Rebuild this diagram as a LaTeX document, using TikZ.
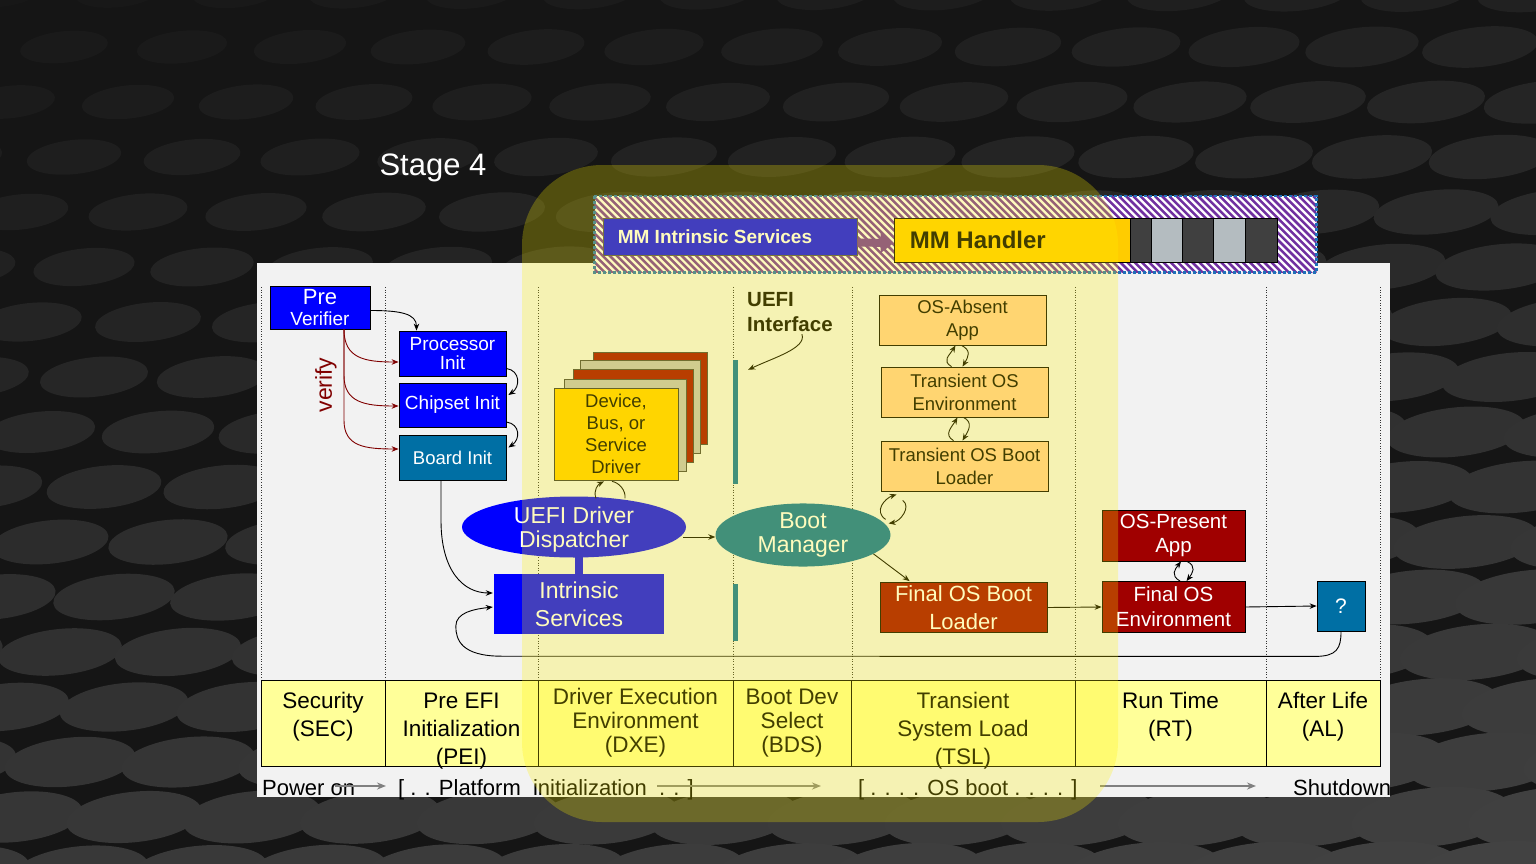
\documentclass[tikz,border=0pt]{standalone}
\usepackage{fontspec}
\setmainfont{Liberation Sans}
\usetikzlibrary{arrows.meta,calc,shapes.geometric}
\newcommand\fsz[2]{\fontsize{#1}{#2}\selectfont}

\definecolor{bgdark}{HTML}{151515}
\definecolor{panel}{HTML}{F2F2F2}
\definecolor{pblue}{HTML}{0000FF}
\definecolor{ueteal}{HTML}{006FA4}
\definecolor{dred}{HTML}{A00000}
\definecolor{vred}{HTML}{800000}
\definecolor{gold}{HTML}{FFCC00}
\definecolor{peach}{HTML}{FFCC99}
\definecolor{phase}{HTML}{FFFF99}
\definecolor{silver}{HTML}{C0C0C0}
\definecolor{mmpurple}{HTML}{7030A0}
\definecolor{mmborder}{HTML}{1F6FB8}
\definecolor{segdark}{HTML}{404040}
\definecolor{seglight}{HTML}{B4BCC0}
\definecolor{arrowgrey}{HTML}{808080}

\begin{document}
\begin{tikzpicture}[x=1pt,y=-1pt,
  box/.style={draw=black, line width=0.8pt, inner sep=0pt, align=center},
  bluebox/.style={box, fill=pblue, text=white},
  peachbox/.style={box, fill=peach, text=black, minimum width=167pt, minimum height=50pt, font=\fsz{18.5}{23}},
  redbox/.style={box, fill=dred, text=white},
  card/.style={fill=#1, draw=black!75, line width=0.6pt},
  conn/.style={draw=black, line width=0.9pt, -{Stealth[length=7pt,width=5.5pt]}},
  plain/.style={draw=black, line width=0.9pt},
  vconn/.style={conn, draw=vred},
  greyarrow/.style={draw=arrowgrey, line width=2pt, -{Stealth[length=9pt,width=7pt]}},
  divider/.style={draw=black!80, line width=0.8pt, dash pattern=on 1pt off 1.6pt},
  phasebox/.style={draw=black, fill=phase, line width=0.8pt, minimum height=86pt, inner sep=0pt},
  phasetext/.style={align=center, text=black, inner sep=0pt},
  timeline/.style={anchor=base west, inner sep=0pt, font=\fsz{22}{22}},
  seg/.style={draw=black, line width=0.8pt, minimum height=44pt, inner sep=0pt, fill=#1}
]
\useasboundingbox (0,0) rectangle (1536,864);

% ---------- textured dark backdrop ----------
\fill[bgdark] (0,0) rectangle (1536,864);
\begin{scope}
\clip (0,0) rectangle (1536,864);
\foreach \j in {0,...,16} {
  \foreach \i in {-1,...,14} {
    \pgfmathsetmacro\yy{\j*55-8}
    \pgfmathsetmacro\xx{\i*118+mod(\j,2)*59+\j*5}
    \pgfmathsetmacro\erx{42+\yy*0.03+\xx*0.01}
    \pgfmathsetmacro\ery{15+\yy*0.012+\xx*0.003}
    \pgfmathtruncatemacro\gv{24+\yy/864*32+\xx/1536*10}
    \fill[fill={rgb,255:red,\gv;green,\gv;blue,\gv}, rotate around={6:(\xx,\yy)}]
      (\xx,\yy) ellipse [x radius=\erx, y radius=\ery];
  }
}
\end{scope}

% ---------- title ----------
\node[text=white, font=\fsz{31}{31}] (title) at (433,168) {Stage 4};

% ---------- diagram panel ----------
\fill[panel] (257,263) rectangle (1390,797);
\foreach \x in {261,385,538,733,852,1075,1266,1380}
  \draw[divider] (\x,287) -- (\x,680);

% ---------- phase row ----------
\node[phasebox, minimum width=124pt] (sec) at (323,723) {};
\node[phasebox, minimum width=153pt] (pei) at (461.5,723) {};
\node[phasebox, minimum width=195pt] (dxe) at (635.5,723) {};
\node[phasebox, minimum width=118pt] (bds) at (792,723) {};
\node[phasebox, minimum width=224pt] (tsl) at (963,723) {};
\node[phasebox, minimum width=191pt] (rt) at (1170.5,723) {};
\node[phasebox, minimum width=114pt] (al) at (1323,723) {};
\node[phasetext, font=\fsz{22.5}{28}] (sectxt) at (323,717) {Security\\(SEC)};
\node[phasetext, font=\fsz{22.5}{28}] (peitxt) at (461.5,731) {Pre EFI\\Initialization\\(PEI)};
\node[phasetext, font=\fsz{22.5}{24}] (dxetxt) at (635.5,723) {Driver Execution\\Environment\\(DXE)};
\node[phasetext, font=\fsz{22.5}{24}] (bdstxt) at (792,723) {Boot Dev\\Select\\(BDS)};
\node[phasetext, font=\fsz{22.5}{28}] (tsltxt) at (963,731) {Transient\\System Load\\(TSL)};
\node[phasetext, font=\fsz{22.5}{28}] (rttxt) at (1170.5,717) {Run Time\\(RT)};
\node[phasetext, font=\fsz{22.5}{28}] (altxt) at (1323,717) {After Life\\(AL)};

% ---------- timeline ----------
\node[timeline] (poweron) at (262,795) {Power on};
\node[timeline] (platform) at (398,795) {[ . . Platform~ initialization~ . . ]};
\node[timeline] (osboot) at (858,795) {[ . . . . OS boot . . . . ]};
\node[timeline] (shutdown) at (1293,795) {Shutdown};
\coordinate (ga1) at (335,786); \coordinate (gb1) at (386,786);
\coordinate (ga2) at (657,786); \coordinate (gb2) at (821,786);
\coordinate (ga3) at (1100,786); \coordinate (gb3) at (1256,786);
\draw[greyarrow] (ga1) -- (gb1);
\draw[greyarrow] (ga2) -- (gb2);
\draw[greyarrow] (ga3) -- (gb3);

% ---------- MM bar ----------
\node[fill=white, minimum width=722pt, minimum height=76pt, inner sep=0pt] (mmbar) at (955.5,234) {};
\begin{scope}
  \clip (mmbar.north west) rectangle (mmbar.south east);
  \foreach \k in {0,...,112}
    \draw[mmpurple, line width=2.5pt] ({514+\k*7.2},196) -- ++(80,80);
\end{scope}
\draw[mmborder, line width=2.6pt, dash pattern=on 3pt off 2pt] (mmbar.north west) rectangle (mmbar.south east);
\node[fill=pblue, draw=black!70, line width=0.8pt, minimum width=254pt, minimum height=37pt, inner sep=0pt] (mmis) at (730,236.5) {};
\node[anchor=west, text=white, inner sep=0pt, font=\bfseries\fsz{19}{20}] (mmistxt) at ($(mmis.west)+(15,0)$) {MM Intrinsic Services};
\node[fill=gold, draw=black, line width=0.8pt, minimum width=236pt, minimum height=44pt, inner sep=0pt] (mmh) at (1012,240) {};
\node[anchor=west, text=black, inner sep=0pt, font=\bfseries\fsz{24}{24}] (mmhtxt) at ($(mmh.west)+(16,0)$) {MM Handler};
\node[seg=segdark, minimum width=21pt] (s1) at (1140.5,240) {};
\node[seg=seglight, minimum width=31pt] (s2) at (1166.5,240) {};
\node[seg=segdark, minimum width=31pt] (s3) at (1197.5,240) {};
\node[seg=seglight, minimum width=32pt] (s4) at (1229,240) {};
\node[seg=segdark, minimum width=32pt] (s5) at (1261,240) {};
\draw[mmpurple, line width=8pt, -{Triangle[length=13pt,width=20pt]}] ($(mmis.east)+(0,6)$) -- ($(mmh.west)+(0,3)$);

% ---------- SEC / PEI ----------
\node[bluebox, minimum width=100pt, minimum height=43pt, font=\fsz{19}{21}] (prever) at (320,307.5) {{\fsz{22}{21}Pre}\\Verifier};
\node[bluebox, minimum width=107pt, minimum height=45pt, font=\fsz{19}{19}] (procinit) at (452.5,353.5) {Processor\\Init};
\node[bluebox, minimum width=107pt, minimum height=44pt, font=\fsz{19}{19}] (chipinit) at (452.5,405) {Chipset Init};
\node[box, fill=ueteal, text=white, minimum width=107pt, minimum height=45pt, font=\fsz{18.5}{19}] (boardinit) at (452.5,457.5) {Board Init};
\node[rotate=90, text=vred, inner sep=0pt, font=\fsz{23}{23}] (verifylbl) at (326,385) {verify};

\draw[conn] ($(prever.east)+(0,3)$) .. controls +(30,0) and +(0,-17) .. ($(procinit.north)+(-36,0)$);
\coordinate (vsrc) at ($(prever.south)+(24,0)$);
\draw[vconn] (vsrc) .. controls +(0,29) and +(-34,0) .. ($(procinit.west)+(0,8.5)$);
\draw[vconn] (vsrc) -- ++(0,46) .. controls +(0,27) and +(-34,0) .. ($(chipinit.west)+(0,1)$);
\draw[vconn] (vsrc) -- ++(0,91) .. controls +(0,26) and +(-34,0) .. ($(boardinit.west)+(0,-8.5)$);
\draw[conn] ($(procinit.east)+(0,15)$) .. controls +(14,2) and +(12,-8) .. ($(chipinit.east)+(2,-10)$);
\draw[conn] ($(chipinit.east)+(0,17)$) .. controls +(14,2) and +(12,-8) .. ($(boardinit.east)+(2,-10)$);

% ---------- DXE ----------
\filldraw[card=dred] (593,352) rectangle (707,444);
\filldraw[card=silver] (580,360) rectangle (700,453);
\filldraw[card=dred] (573,369) rectangle (693,462);
\filldraw[card=silver] (564,379) rectangle (686,471);
\node[box, fill=gold, draw=black!80, minimum width=124pt, minimum height=92pt, font=\fsz{18.5}{22}] (device) at (616,434) {Device,\\Bus, or\\Service\\Driver};

\node[ellipse, fill=pblue, minimum width=224pt, minimum height=61pt, inner sep=0pt] (dispatcher) at (574,527) {};
\node[text=white, align=center, inner sep=0pt, font=\fsz{23}{24}] (disptxt) at (574,530) {UEFI Driver\\Dispatcher};
\node[fill=pblue, minimum width=8pt, minimum height=17pt, inner sep=0pt] (link) at (579,565.5) {};
\node[fill=pblue, minimum width=170pt, minimum height=60pt, inner sep=0pt, text=white, align=center, font=\fsz{23}{28}] (intrinsic) at (579,604) {Intrinsic\\Services};

\draw[conn] ($(device.south)+(-20,18)$) .. controls +(-3,-8) and +(-6,3) .. ($(device.south)+(-12,1)$);
\draw[plain] ($(device.south)+(-4,1)$) .. controls +(7,1) and +(1,-8) .. ($(device.south)+(9,18)$);

\draw[conn] ($(boardinit.south)+(-11.5,0)$) -- ++(0,40) .. controls +(0,50) and +(-30,0) .. ($(intrinsic.west)+(-1,-11)$);

% ---------- BDS ----------
\node[fill=ueteal, minimum width=5pt, minimum height=124pt, inner sep=0pt] (ifbar1) at (735.5,422) {};
\node[fill=ueteal, minimum width=5pt, minimum height=57pt, inner sep=0pt] (ifbar2) at (735.5,612.5) {};
\node[anchor=north west, align=left, inner sep=0pt, font=\bfseries\fsz{20.5}{25}] (uefilbl) at (747,292.5) {UEFI\\Interface};
\draw[conn] ($(uefilbl.south)+(12,2)$) .. controls +(5,14) and +(25,-12) .. ($(ifbar1.north east)+(10,10)$);

\node[ellipse, fill=ueteal, text=white, minimum width=175pt, minimum height=56pt, inner sep=0pt, align=center, font=\fsz{23}{24}] (bootmgr) at (803,535) {Boot\\Manager};
\draw[conn] ($(dispatcher.east)+(-3,10)$) -- ($(bootmgr.west)+(0,2)$);

% ---------- TSL ----------
\node[peachbox] (osabsent) at (962.5,320) {OS-Absent\\App};
\node[peachbox] (tose) at (964.5,392) {Transient OS\\Environment};
\node[peachbox] (tosbl) at (964.5,466) {Transient OS Boot\\Loader};
\node[redbox, minimum width=167pt, minimum height=50pt, font=\fsz{22}{28}] (finalbl) at (963.5,607.5) {Final OS Boot\\Loader};

\draw[conn] ($(tose.north)+(-13,0)$) .. controls +(-10,-6) and +(-6,10) .. ($(osabsent.south)+(-7,0)$);
\draw[conn] ($(osabsent.south)+(-1,0)$) .. controls +(10,5) and +(6,-10) .. ($(tose.north)+(-2,0)$);
\draw[conn] ($(tosbl.north)+(-11,0)$) .. controls +(-10,-6) and +(-6,10) .. ($(tose.south)+(-7,0)$);
\draw[conn] ($(tose.south)+(-1,0)$) .. controls +(10,5) and +(6,-10) .. ($(tosbl.north)+(-2,0)$);

\draw[conn] ($(tosbl.south west)+(5,28)$) .. controls +(-12,-8) and +(-12,4) .. ($(tosbl.south west)+(16,3)$);
\draw[conn] ($(tosbl.south west)+(22,9)$) .. controls +(9,6) and +(12,-2) .. ($(tosbl.south west)+(8,32)$);

\draw[conn] (bootmgr.-15) -- ($(finalbl.north west)+(30,-1)$);

% ---------- RT / AL ----------
\node[redbox, minimum width=143pt, minimum height=51pt, font=\fsz{20.5}{24}] (ospresent) at (1173.5,535.5) {OS-Present\\App};
\node[redbox, minimum width=143pt, minimum height=51pt, font=\fsz{20.5}{25}] (finalenv) at (1173.5,607) {Final OS\\Environment};
\node[box, fill=ueteal, text=white, minimum width=48pt, minimum height=50pt, font=\fsz{21}{21}] (qbox) at (1341,606) {?};

\draw[conn] ($(finalenv.north)+(6.5,0)$) .. controls +(-10,-6) and +(-6,8) .. ($(ospresent.south)+(7.5,0)$);
\draw[conn] ($(ospresent.south)+(13.5,0)$) .. controls +(10,5) and +(6,-8) .. ($(finalenv.north)+(13,0)$);

\draw[conn] (finalbl.east) -- (finalenv.west);
\draw[conn] (finalenv.east) -- (qbox.west);

\draw[conn] (qbox.south) .. controls +(0,17) and +(22,0) .. ($(qbox.south)+(-26,25)$)
  -- ($(intrinsic.south west)+(8,22)$)
  .. controls +(-40,0) and +(0,14) .. ($(intrinsic.south west)+(-38,-8)$)
  .. controls +(0,-14) and +(-18,2) .. ($(intrinsic.west)+(-1,3)$);

% ---------- translucent highlight ----------
\fill[yellow, opacity=0.26, rounded corners=80pt] (522,165) rectangle (1118,822);
\end{tikzpicture}
\end{document}
